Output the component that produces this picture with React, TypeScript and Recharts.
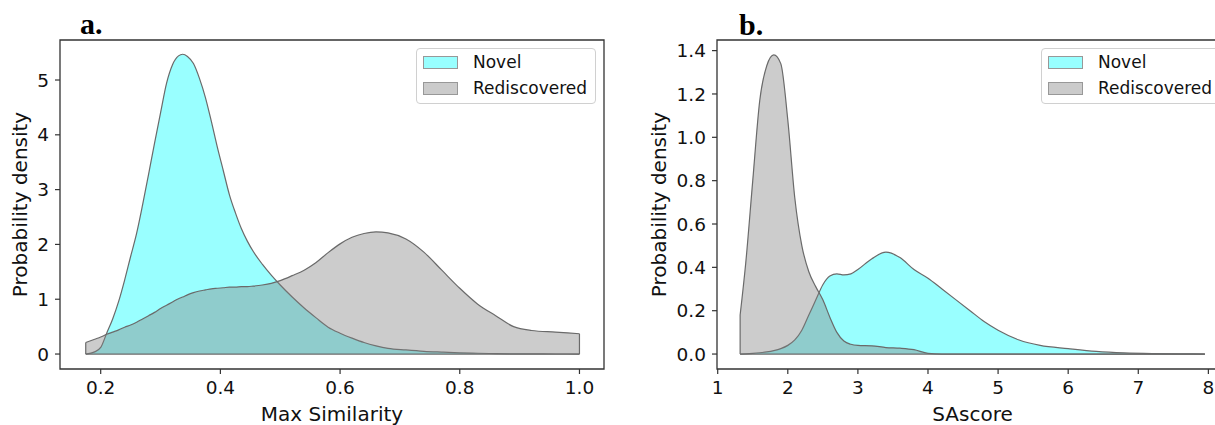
import React from "react";
import {
  AreaChart,
  Area,
  XAxis,
  YAxis,
  Legend,
  ReferenceLine,
  ReferenceArea,
} from "recharts";

// panel a: Max Similarity
const simX = [
  0.175, 0.19, 0.2, 0.21, 0.22, 0.23, 0.24, 0.25, 0.26, 0.27, 0.28, 0.29, 0.3,
  0.31, 0.32, 0.33, 0.337, 0.345, 0.355, 0.365, 0.375, 0.385, 0.395, 0.405,
  0.415, 0.425, 0.435, 0.445, 0.455, 0.47, 0.485, 0.5, 0.52, 0.54, 0.56, 0.58,
  0.6, 0.62, 0.64, 0.66, 0.68, 0.71, 0.74, 0.77, 0.8, 0.83, 0.86, 0.89, 0.92,
  0.96, 1.0,
];
const simNovel = [
  0, 0.04, 0.12, 0.38, 0.64, 0.96, 1.35, 1.78, 2.2, 2.72, 3.28, 3.85, 4.4,
  4.94, 5.28, 5.44, 5.47, 5.43, 5.3, 5.03, 4.68, 4.24, 3.77, 3.34, 2.91, 2.58,
  2.29, 2.06, 1.87, 1.64, 1.44, 1.26, 1.04, 0.84, 0.66, 0.49, 0.38, 0.29, 0.21,
  0.15, 0.105, 0.075, 0.05, 0.035, 0.022, 0.014, 0.008, 0.004, 0.002, 0.001, 0,
];
const simRediscovered = [
  0.21, 0.27, 0.31, 0.36, 0.4, 0.44, 0.49, 0.53, 0.58, 0.64, 0.7, 0.76, 0.83,
  0.89, 0.95, 1.01, 1.04, 1.08, 1.12, 1.15, 1.17, 1.19, 1.2, 1.21, 1.22, 1.22,
  1.23, 1.23, 1.24, 1.26, 1.29, 1.34, 1.43, 1.53, 1.67, 1.85, 2.01, 2.13, 2.2,
  2.23, 2.21, 2.1, 1.86, 1.53, 1.2, 0.91, 0.7, 0.5, 0.43, 0.4, 0.37,
];
const simXTicks = [0.2, 0.4, 0.6, 0.8, 1.0];
const simYTicks = [0, 1, 2, 3, 4, 5];

// panel b: SAscore
const saX = [
  1.32, 1.4, 1.5, 1.6, 1.7, 1.8, 1.9, 2.0, 2.1, 2.2, 2.3, 2.4, 2.5, 2.6, 2.7,
  2.8, 2.9, 3.0, 3.2, 3.4, 3.6, 3.8, 4.0, 4.2, 4.4, 4.6, 4.8, 5.0, 5.3, 5.6,
  6.0, 6.4, 6.8, 7.2, 7.6, 7.95,
];
const saNovel = [
  0, 0.001, 0.003, 0.006, 0.01, 0.016, 0.025, 0.04, 0.065, 0.11, 0.18, 0.25,
  0.32, 0.36, 0.37, 0.365, 0.37, 0.39, 0.44, 0.47, 0.445, 0.39, 0.35, 0.3, 0.25,
  0.2, 0.15, 0.11, 0.065, 0.04, 0.025, 0.012, 0.005, 0.002, 0.001, 0,
];
const saRediscovered = [
  0.18, 0.42, 0.8, 1.17, 1.33, 1.38, 1.34, 1.08, 0.72, 0.5, 0.38, 0.31, 0.25,
  0.17, 0.1, 0.06, 0.045, 0.04, 0.038, 0.03, 0.027, 0.02, 0.003, 0, 0, 0, 0, 0,
  0, 0, 0, 0, 0, 0, 0, 0,
];
const saXTicks = [1, 2, 3, 4, 5, 6, 7, 8];
const saYTicks = [0, 0.2, 0.4, 0.6, 0.8, 1.0, 1.2, 1.4];

const seriesNames = ["Novel", "Rediscovered"];

const simData = simX.map((x, i) => ({
  x,
  novel: simNovel[i],
  rediscovered: simRediscovered[i],
}));
const saData = saX.map((x, i) => ({
  x,
  novel: saNovel[i],
  rediscovered: saRediscovered[i],
}));

const FONT = "DejaVu Sans";
const INK = "#111";
const FRAME = "#333";
const EDGE = "#6a6a6a";
const NOVEL_FILL = "#00ffff";
const REDIS_FILL = "#808080";

const tickStyle = { fontFamily: FONT, fontSize: 18.5, fill: INK };
const labelStyle = { fontFamily: FONT, fontSize: 20, fill: INK };

function LegendBox() {
  const fills = [NOVEL_FILL, REDIS_FILL];
  return (
    <div
      style={{
        width: 178,
        height: 54,
        border: "1px solid #d0d0d0",
        borderRadius: 4,
        background: "rgba(255,255,255,0.8)",
        fontFamily: FONT,
        fontSize: 17,
        color: INK,
        boxSizing: "content-box",
      }}
    >
      {seriesNames.map((name, i) => (
        <div
          key={name}
          style={{
            display: "flex",
            alignItems: "center",
            height: 13,
            marginTop: i === 0 ? 7 : 13,
            marginLeft: 6,
          }}
        >
          <span
            style={{
              display: "inline-block",
              width: 33,
              height: 11,
              background: fills[i],
              opacity: 0.4,
              border: "1px solid #000",
              marginRight: 15,
            }}
          />
          <span style={{ lineHeight: "13px" }}>{name}</span>
        </div>
      ))}
    </div>
  );
}

type PanelProps = {
  data: { x: number; novel: number; rediscovered: number }[];
  xs: number[];
  rediscovered: number[];
  width: number;
  yAxisWidth: number;
  right: number;
  xDomain: [number, number];
  yDomain: [number, number];
  xTicks: number[];
  yTicks: number[];
  xLabel: string;
  xFormat: (v: number) => string;
  yFormat: (v: number) => string;
  legendLeft: number;
};

function Panel(p: PanelProps) {
  const x0 = p.xs[0];
  const x1 = p.xs[p.xs.length - 1];
  const r0 = p.rediscovered[0];
  const r1 = p.rediscovered[p.rediscovered.length - 1];
  return (
    <AreaChart
      width={p.width}
      height={425}
      data={p.data}
      margin={{ top: 40, right: p.right, bottom: 26, left: 0 }}
    >
      <XAxis
        dataKey="x"
        type="number"
        domain={p.xDomain}
        ticks={p.xTicks}
        tickFormatter={p.xFormat}
        allowDataOverflow
        axisLine={false}
        tickLine={{ stroke: FRAME, strokeWidth: 1.2 }}
        tickSize={5}
        tickMargin={7}
        tick={tickStyle}
        height={30}
        label={{ value: p.xLabel, position: "bottom", offset: 8, style: labelStyle }}
      />
      <YAxis
        type="number"
        domain={p.yDomain}
        ticks={p.yTicks}
        tickFormatter={p.yFormat}
        allowDataOverflow
        axisLine={false}
        tickLine={{ stroke: FRAME, strokeWidth: 1.2 }}
        tickSize={5}
        tickMargin={6}
        tick={tickStyle}
        width={p.yAxisWidth}
        label={{
          value: "Probability density",
          angle: -90,
          position: "center",
          dx: -10,
          style: { ...labelStyle, textAnchor: "middle" },
        }}
      />
      <Area
        type="monotone"
        dataKey="novel"
        name={seriesNames[0]}
        baseValue={0}
        fill={NOVEL_FILL}
        fillOpacity={0.4}
        stroke={EDGE}
        strokeWidth={1.2}
        dot={false}
        activeDot={false}
        isAnimationActive={false}
      />
      <Area
        type="monotone"
        dataKey="rediscovered"
        name={seriesNames[1]}
        baseValue={0}
        fill={REDIS_FILL}
        fillOpacity={0.4}
        stroke={EDGE}
        strokeWidth={1.2}
        dot={false}
        activeDot={false}
        isAnimationActive={false}
      />
      <ReferenceLine
        segment={[
          { x: x0, y: 0 },
          { x: x1, y: 0 },
        ]}
        stroke={EDGE}
        strokeWidth={1.2}
        ifOverflow="visible"
      />
      <ReferenceLine
        segment={[
          { x: x0, y: 0 },
          { x: x0, y: r0 },
        ]}
        stroke={EDGE}
        strokeWidth={1.2}
        ifOverflow="visible"
      />
      {r1 > 0 && (
        <ReferenceLine
          segment={[
            { x: x1, y: 0 },
            { x: x1, y: r1 },
          ]}
          stroke={EDGE}
          strokeWidth={1.2}
          ifOverflow="visible"
        />
      )}
      <ReferenceArea
        x1={p.xDomain[0]}
        x2={p.xDomain[1]}
        y1={p.yDomain[0]}
        y2={p.yDomain[1]}
        fill="none"
        stroke={FRAME}
        strokeWidth={1.3}
        ifOverflow="visible"
      />
      <Legend
        layout="vertical"
        align="center"
        verticalAlign="middle"
        wrapperStyle={{ top: 48, left: p.legendLeft, width: 180 }}
        content={() => <LegendBox />}
      />
    </AreaChart>
  );
}

export default function App() {
  const panelLabel: React.CSSProperties = {
    position: "absolute",
    fontFamily: "Liberation Serif",
    fontWeight: "bold",
    fontSize: 30,
    lineHeight: "30px",
    color: "#000",
  };
  return (
    <div
      style={{
        position: "absolute",
        left: 0,
        top: 0,
        width: 1215,
        height: 425,
        overflow: "hidden",
        background: "#fff",
      }}
    >
      <div style={{ position: "absolute", left: 0, top: 0 }}>
        <Panel
          data={simData}
          xs={simX}
          rediscovered={simRediscovered}
          width={610}
          yAxisWidth={60}
          right={6}
          xDomain={[0.132, 1.041]}
          yDomain={[-0.273, 5.73]}
          xTicks={simXTicks}
          yTicks={simYTicks}
          xLabel="Max Similarity"
          xFormat={(v) => v.toFixed(1)}
          yFormat={(v) => String(v)}
          legendLeft={416}
        />
      </div>
      <div style={{ position: "absolute", left: 620, top: 0 }}>
        <Panel
          data={saData}
          xs={saX}
          rediscovered={saRediscovered}
          width={620}
          yAxisWidth={97}
          right={12}
          xDomain={[0.99, 8.28]}
          yDomain={[-0.069, 1.449]}
          xTicks={saXTicks}
          yTicks={saYTicks}
          xLabel="SAscore"
          xFormat={(v) => String(v)}
          yFormat={(v) => v.toFixed(1)}
          legendLeft={421}
        />
      </div>
      <div style={{ ...panelLabel, left: 80, top: 9 }}>a.</div>
      <div style={{ ...panelLabel, left: 739, top: 10 }}>b.</div>
    </div>
  );
}
